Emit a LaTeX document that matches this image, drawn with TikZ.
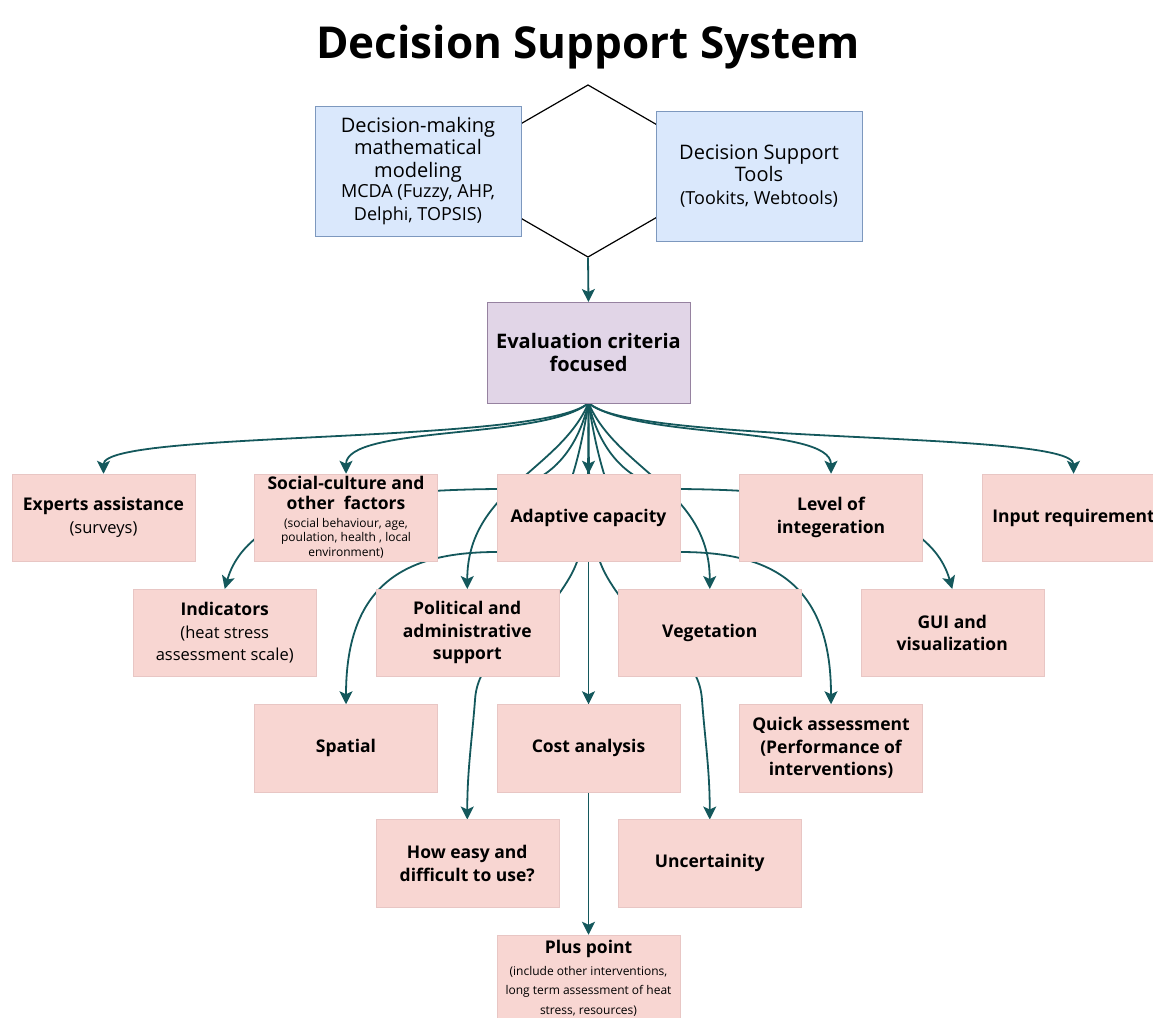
\documentclass[tikz,border=0pt]{standalone}
\usepackage{fontspec}
\setmainfont{Open Sans}
\usetikzlibrary{arrows.meta,shapes.geometric,backgrounds}

\definecolor{pinkfill}{RGB}{248,214,210}
\definecolor{pinkline}{RGB}{232,198,196}
\definecolor{bluefill}{RGB}{218,232,252}
\definecolor{blueline}{RGB}{125,152,190}
\definecolor{lilacfill}{RGB}{225,213,231}
\definecolor{lilacline}{RGB}{150,130,160}
\definecolor{linkcol}{RGB}{20,88,92}

\newcommand{\subtext}[1]{{\mdseries\fontsize{16.5}{22.5}\selectfont #1}}
\newcommand{\finetext}[1]{{\mdseries\fontsize{12}{14}\selectfont #1}}

\tikzset{
	card/.style={draw=pinkline,fill=pinkfill,minimum width=183pt,minimum height=87.5pt,inner sep=2pt,outer sep=0pt,align=center,font=\bfseries\fontsize{17.5}{22.5}\selectfont},
	model/.style={draw=blueline,fill=bluefill,minimum width=206pt,minimum height=130pt,inner sep=2pt,outer sep=0pt,align=center,font=\fontsize{20}{22.5}\selectfont},
	crit/.style={draw=lilacline,fill=lilacfill,minimum width=203pt,minimum height=101pt,outer sep=0pt,align=center,font=\bfseries\fontsize{20}{23}\selectfont},
	link/.style={draw=linkcol,line width=1.8pt,-{Stealth[length=13pt,width=13pt,inset=3pt]}}
}

\begin{document}
\begin{tikzpicture}[x=1pt,y=-1pt]
	\useasboundingbox (0,0) rectangle (1153,1017);

	\node[anchor=base,font=\bfseries\fontsize{44}{50}\selectfont] (title) at (588,58) {Decision Support System};
	\node[draw,regular polygon,regular polygon sides=6,shape border rotate=90,minimum size=172pt,inner sep=0pt,line width=1.2pt] (hex) at (588,171) {};

	\node[model] (math) at (418,171) {Decision-making\\mathematical\\modeling\\[-2pt]{\fontsize{18}{22.5}\selectfont MCDA (Fuzzy, AHP,}\\{\fontsize{18}{22.5}\selectfont Delphi, TOPSIS)}};
	\node[model] (tools) at (759,176) {Decision Support\\Tools\\{\fontsize{18}{22.5}\selectfont (Tookits, Webtools)}};
	\node[crit] (eval) at (588.5,352.5) {Evaluation criteria\\focused};

	% first row
	\node[card] (experts) at (103.5,517.5) {Experts assistance\\\subtext{(surveys)}};
	\node[card] (social) at (346,517.5) {Social-culture and\\[-2.5pt]other~~factors\\[-5pt]\finetext{(social behaviour, age,}\\[-8pt]\finetext{poulation, health , local}\\[-8pt]\finetext{environment)}};
	\node[card] (adaptive) at (588.5,517.5) {Adaptive capacity};
	\node[card] (level) at (831,517.5) {Level of\\integeration};
	\node[card] (input) at (1073.5,517.5) {Input requirement};

	\node[card] (indicators) at (224.75,632.75) {Indicators\\\subtext{(heat stress}\\\subtext{assessment scale)}};
	\node[card] (political) at (467.25,632.75) {Political and\\administrative\\support};
	\node[card] (vegetation) at (709.75,632.75) {Vegetation};
	\node[card] (gui) at (952.25,632.75) {GUI and\\visualization};

	\node[card] (spatial) at (346,748) {Spatial};
	\node[card] (cost) at (588.5,748) {Cost analysis};
	\node[card] (quick) at (831,748) {Quick assessment\\(Performance of\\interventions)};

	\node[card] (easy) at (467.25,863.25) {How easy and\\difficult to use?};
	\node[card] (uncert) at (709.75,863.25) {Uncertainity};

	\node[card] (plus) at (588.5,978.5) {Plus point\\[-1pt]\finetext{(include other interventions,}\\[-3pt]\finetext{long term assessment of heat}\\[-3pt]\finetext{stress, resources)}};

	\draw[link] (hex.south) -- (eval.north);

	\begin{pgfonlayer}{background}
		\draw[link] (eval.south) .. controls (540,445) and (103.5,430) .. (experts.north);
		\draw[link] (eval.south) .. controls (545,440) and (346,425) .. (social.north);
		\draw[link] (eval.south) .. controls (637,440) and (831,425) .. (level.north);
		\draw[link] (eval.south) .. controls (632,445) and (1073.5,430) .. (input.north);
		\draw[link] (eval.south) -- (adaptive.north);
		\draw[link] (eval.south) -- (cost.north);
		\draw[link] (eval.south) -- (plus.north);
		\draw[link] (eval.south) .. controls (575,460) and (540,488) .. (497,489) .. controls (390,490) and (250,500) .. (indicators.north);
		\draw[link] (eval.south) .. controls (602,460) and (637,488) .. (680,489) .. controls (787,490) and (927,500) .. (gui.north);
		\draw[link] (eval.south) .. controls (560,470) and (467.25,490) .. (political.north);
		\draw[link] (eval.south) .. controls (617,470) and (709.75,490) .. (vegetation.north);
		\draw[link] (eval.south) .. controls (570,520) and (540,552) .. (497,552) .. controls (410,552) and (346,580) .. (spatial.north);
		\draw[link] (eval.south) .. controls (607,520) and (637,552) .. (680,552) .. controls (767,552) and (831,580) .. (quick.north);
		\draw[link] (eval.south) .. controls (588,520) and (588,550) .. (565,585) .. controls (530,640) and (478,650) .. (475,700) .. controls (472,740) and (467.25,770) .. (easy.north);
		\draw[link] (eval.south) .. controls (589,520) and (589,550) .. (612,585) .. controls (647,640) and (699,650) .. (702,700) .. controls (705,740) and (709.75,770) .. (uncert.north);
	\end{pgfonlayer}
\end{tikzpicture}
\end{document}
